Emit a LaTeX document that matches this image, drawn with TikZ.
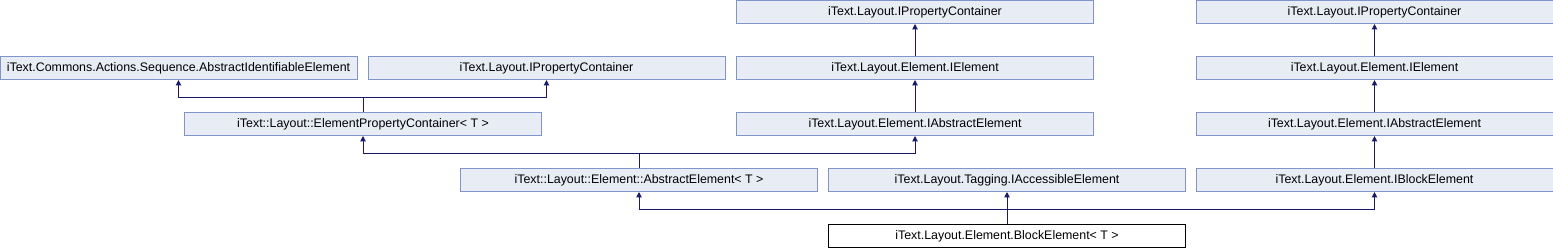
\documentclass[tikz,border=0pt]{standalone}
\usepackage{fontspec}
\setmainfont{Liberation Sans}
\usetikzlibrary{arrows.meta}
\definecolor{boxfill}{HTML}{E8ECF5}
\definecolor{boxline}{HTML}{7F95CC}
\definecolor{edgecol}{HTML}{191970}
\tikzset{
  cls/.style={draw=boxline, fill=boxfill, line width=0.75pt, minimum width=267.75pt, minimum height=17.25pt, inner sep=0pt, font=\fontsize{9.3pt}{11pt}\selectfont},
  cur/.style={cls, draw=black, fill=white},
  arr/.style={draw=edgecol, line width=0.75pt, -{Triangle[length=4pt,width=4pt]}},
  ln/.style={draw=edgecol, line width=0.75pt}
}
\begin{document}
\begin{tikzpicture}[x=0.75pt, y=-0.75pt]
\useasboundingbox (0,0) rectangle (1553,248);
% row 1
\node[cls] (ipcC) at (915,12) {iText.Layout.IPropertyContainer};
\node[cls] (ipcR) at (1374.5,12) {iText.Layout.IPropertyContainer};
% row 2
\node[cls] (aie) at (178.5,68) {iText.Commons.Actions.Sequence.AbstractIdentifiableElement};
\node[cls] (ipcL) at (546.5,68) {iText.Layout.IPropertyContainer};
\node[cls] (ieC) at (915,68) {iText.Layout.Element.IElement};
\node[cls] (ieR) at (1374.5,68) {iText.Layout.Element.IElement};
% row 3
\node[cls] (epc) at (363,124) {iText::Layout::ElementPropertyContainer< T >};
\node[cls] (iaeC) at (915,124) {iText.Layout.Element.IAbstractElement};
\node[cls] (iaeR) at (1374.5,124) {iText.Layout.Element.IAbstractElement};
% row 4
\node[cls] (ae) at (639,180) {iText::Layout::Element::AbstractElement< T >};
\node[cls] (iacc) at (1007,180) {iText.Layout.Tagging.IAccessibleElement};
\node[cls] (ibe) at (1374.5,180) {iText.Layout.Element.IBlockElement};
% row 5
\node[cur] (be) at (1007,236) {iText.Layout.Element.BlockElement< T >};
% junctions
\coordinate (j1) at (363,97);
\coordinate (j2) at (639,153);
\coordinate (j3) at (1007,209);
% edges
\draw[arr] (ieC) -- (ipcC);
\draw[arr] (iaeC) -- (ieC);
\draw[arr] (ieR) -- (ipcR);
\draw[arr] (iaeR) -- (ieR);
\draw[arr] (ibe) -- (iaeR);
\draw[ln] (epc.north) -- (j1);
\draw[arr] (j1) -| (aie.south);
\draw[arr] (j1) -| (ipcL.south);
\draw[ln] (ae.north) -- (j2);
\draw[arr] (j2) -| (epc.south);
\draw[arr] (j2) -| (iaeC.south);
\draw[arr] (be.north) -- (iacc.south);
\draw[arr] (j3) -| (ae.south);
\draw[arr] (j3) -| (ibe.south);
\end{tikzpicture}
\end{document}
